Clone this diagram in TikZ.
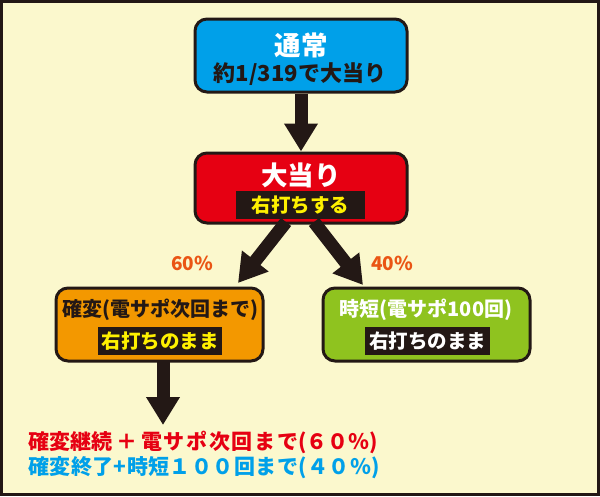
\documentclass[tikz,border=0pt]{standalone}
\usepackage{fontspec}
\newfontfamily\jp{Noto Sans CJK JP}
\usetikzlibrary{arrows.meta,calc}
\definecolor{bgc}{HTML}{FBF8CD}
\definecolor{dk}{HTML}{231815}
\definecolor{cblue}{HTML}{00A0E9}
\definecolor{cred}{HTML}{E60012}
\definecolor{corange}{HTML}{F39800}
\definecolor{cgreen}{HTML}{8FC31F}
\definecolor{cyel}{HTML}{FFF100}
\definecolor{cpct}{HTML}{EA5514}
\begin{document}
\begin{tikzpicture}[x=1pt,y=-1pt,
  box/.style={draw=dk,line width=3pt,rounded corners=12pt,minimum width=#1,minimum height=73pt,inner sep=0pt},
  box/.default=212pt,
  title/.style={font=\jp\bfseries\fontsize{20pt}{20pt}\selectfont,inner sep=0pt},
  bigtitle/.style={font=\jp\bfseries\fontsize{26.5pt}{26.5pt}\selectfont,inner sep=0pt,text=white},
  band/.style={fill=dk,minimum width=#1,minimum height=28pt,inner sep=0pt,font=\jp\bfseries\fontsize{19.5pt}{19.5pt}\selectfont},
  pct/.style={font=\jp\bfseries\fontsize{19pt}{19pt}\selectfont,text=cpct,inner sep=0pt},
  bottom/.style={font=\jp\bfseries\fontsize{21pt}{21pt}\selectfont,inner sep=0pt,anchor=west},
  bigarrow/.style={dk,line width=13pt,-{Triangle[width=32pt,length=28pt]}}
]
\useasboundingbox (0,0) rectangle (600,496);
\fill[bgc] (0,0) rectangle (600,496);
\draw[dk,line width=3pt] (1.5,1.5) rectangle (598.5,494.5);

% boxes
\node[box,fill=cblue] (tsujo) at (301,55.5) {};
\node[box,fill=cred,minimum height=70pt] (ooatari) at (301,188) {};
\node[box=207pt,fill=corange] (kakuhen) at (159.5,324.5) {};
\node[box=207pt,fill=cgreen] (jitan) at (426.5,324.5) {};

% texts
\node[bigtitle] (t1) at (301,45) {通常};
\node[title,text=dk,font=\jp\bfseries\fontsize{22pt}{22pt}\selectfont] (t2) at (300,74) {約1/319で大当り};
\node[bigtitle] (t3) at (301,175) {大当り};
\node[band=129pt,text=cyel] (b1) at (300.5,205) {右打ちする};
\node[title,text=dk] (t4) at (160,310) {確変(電サポ次回まで)};
\node[band=124pt,text=cyel] (b2) at (160,341) {右打ちのまま};
\node[title,text=white] (t5) at (426,310) {時短(電サポ100回)};
\node[band=125pt,text=white] (b3) at (427.5,341) {右打ちのまま};

\node[pct] (p60) at (192,263) {60\%};
\node[pct] (p40) at (392,263) {40\%};

\node[bottom,text=cred] (l1) at (28,442) {確変継続\hspace{4pt}＋\hspace{4pt}{\addfontfeature{LetterSpace=8}電サポ次回まで}(６０％)};
\node[bottom,text=cblue] (l2) at (28,468) {\addfontfeature{LetterSpace=2}確変終了+時短１００回まで(４０％)};

% arrows
\draw[bigarrow] (tsujo.south) -- (ooatari.north);
\coordinate (dl0) at (286,222);
\coordinate (dl1) at (238,283);
\coordinate (dr0) at (314,222);
\coordinate (dr1) at (363,285);
\draw[bigarrow] (dl0) -- (dl1);
\draw[bigarrow] (dr0) -- (dr1);
\coordinate (ks) at (163,360);
\coordinate (ke) at (163,425);
\draw[bigarrow] (ks) -- (ke);
\end{tikzpicture}
\end{document}
